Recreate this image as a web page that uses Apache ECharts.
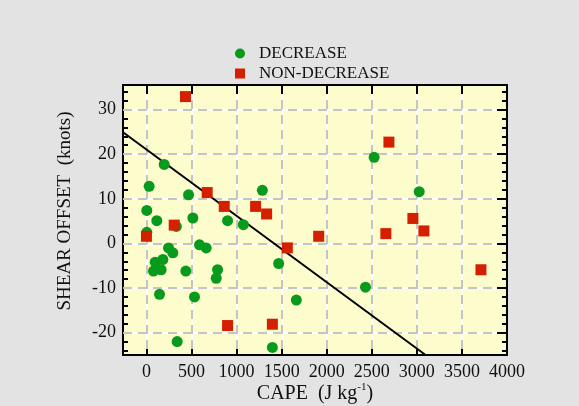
<!DOCTYPE html>
<html>
<head>
<meta charset="utf-8">
<script src="https://cdn.jsdelivr.net/npm/echarts@6/dist/echarts.min.js"></script>
<style>
  html, body { margin: 0; padding: 0; background: #e3e3e3; }
  #container { width: 579px; height: 406px; }
</style>
</head>
<body>
<div id="container"></div>
<script>
// 数据：读自原图
var decX = [197, 30, 467, 1286, 4, 115, 515, 900, 1075, 4, 331, 245, 293, 589, 663, 97, 182, 78, 163, 437, 789, 774, 1467, 145, 533, 1663, 341, 1397, 2526, 3026, 2430];
var decY = [17.7, 12.8, 10.9, 11.9, 7.4, 5.1, 5.7, 5.1, 4.2, 2.5, 3.8, -1.0, -2.1, -0.3, -1.0, -4.2, -3.6, -6.2, -5.9, -6.2, -5.9, -7.8, -4.5, -11.4, -12.0, -12.7, -22.0, -23.3, 19.3, 11.6, -9.8];
var nonX = [433, 674, 863, 1211, 1333, 308, 0, 1563, 900, 1397, 1911, 2690, 2956, 3078, 2656, 3711];
var nonY = [32.9, 11.4, 8.3, 8.3, 6.6, 4.1, 1.6, -1.0, -18.4, -18.1, 1.6, 22.7, 5.6, 2.8, 2.2, -5.9];
// 拟合直线两端
var fitX = [-260, 3097];
var fitY = [24.9, -25.0];
// 刻度
var xTicks = [0, 500, 1000, 1500, 2000, 2500, 3000, 3500, 4000];
var yMajor = [-20, -10, 0, 10, 20, 30];
var yMinor = [-24, -22, -18, -16, -14, -12, -8, -6, -4, -2, 2, 4, 6, 8, 12, 14, 16, 18, 22, 24, 26, 28, 32, 34];

var FONT = '"Liberation Serif", "Times New Roman", serif';
var dom = document.getElementById('container');
var myChart = echarts.init(dom, null, { renderer: 'canvas' });

function zip(xs, ys) {
    return xs.map(function (x, i) { return [x, ys[i]]; });
}

//白色实线在下，灰色虚线在上
var grayLine = { show: true, lineStyle: { color: '#c4c4c4', width: 2, type: [9, 6] } };
var whiteLine = { show: true, lineStyle: { color: '#ffffff', width: 2, type: 'solid' } };
var frame = { show: true, onZero: false, lineStyle: { color: '#000', width: 2 } };
var noLine = { show: false, onZero: false };
var tickStyle = { color: '#000', width: 2 };

var option = {
    backgroundColor: '#e3e3e3',
    textStyle: { fontFamily: FONT },
    grid: {
        left: 123, right: 72, top: 85, bottom: 51,
        show: true, backgroundColor: '#fcfccd', borderWidth: 0,
        outerBoundsMode: 'none'
    },
    legend: {
        orient: 'vertical',
        left: 230, top: 40,
        itemWidth: 10, itemHeight: 10, itemGap: 3,
        textStyle: { fontFamily: FONT, fontSize: 17, color: '#111', padding: [0, 0, 0, 9] },
        data: [
            { name: 'DECREASE', icon: 'circle' },
            { name: 'NON-DECREASE', icon: 'rect' }
        ]
    },
    xAxis: [
        {
            type: 'value', position: 'bottom', min: -260, max: 4000, z: 3,
            axisLine: frame,
            axisTick: { show: true, inside: true, length: 9, customValues: xTicks, lineStyle: tickStyle },
            axisLabel: {
                customValues: xTicks, fontFamily: FONT, fontSize: 18, color: '#111', margin: 8,
                formatter: function (v) { return String(v); }
            },
            splitLine: whiteLine,
            name: 'CAPE  (J kg{sup|-1})', nameLocation: 'middle', nameGap: 27, nameMoveOverlap: false,
            nameTextStyle: {
                fontFamily: FONT, fontSize: 20, color: '#111',
                rich: { sup: { fontFamily: FONT, fontSize: 11, color: '#111', padding: [0, 0, 12, 0] } }
            }
        },
        {
            type: 'value', position: 'top', min: -260, max: 4000, z: 4,
            axisLine: frame,
            axisTick: { show: true, inside: true, length: 9, customValues: xTicks, lineStyle: tickStyle },
            axisLabel: { show: false },
            splitLine: grayLine
        }
    ],
    yAxis: [
        {
            type: 'value', position: 'left', min: -25, max: 35.5, z: 3,
            axisLine: frame,
            axisTick: { show: true, inside: true, length: 9, customValues: yMajor, lineStyle: tickStyle },
            axisLabel: { customValues: yMajor, fontFamily: FONT, fontSize: 18, color: '#111', margin: 7 },
            splitLine: whiteLine,
            name: 'SHEAR OFFSET  (knots)', nameLocation: 'middle', nameGap: 48, nameMoveOverlap: false,
            nameTextStyle: { fontFamily: FONT, fontSize: 19, color: '#111', padding: [0, 0, 0, 18] }
        },
        {
            type: 'value', position: 'left', min: -25, max: 35.5, z: 4,
            axisLine: noLine,
            axisTick: { show: true, inside: true, length: 5, customValues: yMinor, lineStyle: tickStyle },
            axisLabel: { show: false },
            splitLine: { show: false }
        },
        {
            type: 'value', position: 'right', min: -25, max: 35.5, z: 4,
            axisLine: frame,
            axisTick: { show: true, inside: true, length: 10, customValues: yMajor, lineStyle: tickStyle },
            axisLabel: { show: false },
            splitLine: grayLine
        },
        {
            type: 'value', position: 'right', min: -25, max: 35.5, z: 4,
            axisLine: noLine,
            axisTick: { show: true, inside: true, length: 5, customValues: yMinor, lineStyle: tickStyle },
            axisLabel: { show: false },
            splitLine: { show: false }
        }
    ],
    series: [
        {
            name: 'DECREASE', type: 'scatter', z: 10,
            symbol: 'circle', symbolSize: 11,
            itemStyle: { color: '#079a1c', opacity: 1 },
            data: zip(decX, decY)
        },
        {
            name: 'NON-DECREASE', type: 'scatter', z: 11,
            symbol: 'rect', symbolSize: 11,
            itemStyle: { color: '#d42000', opacity: 1 },
            data: zip(nonX, nonY)
        },
        {
            name: 'fit', type: 'line', z: 9, symbol: 'none', silent: true,
            lineStyle: { color: '#000', width: 2 },
            data: zip(fitX, fitY)
        }
    ]
};
myChart.setOption(option);
</script>
</body>
</html>
